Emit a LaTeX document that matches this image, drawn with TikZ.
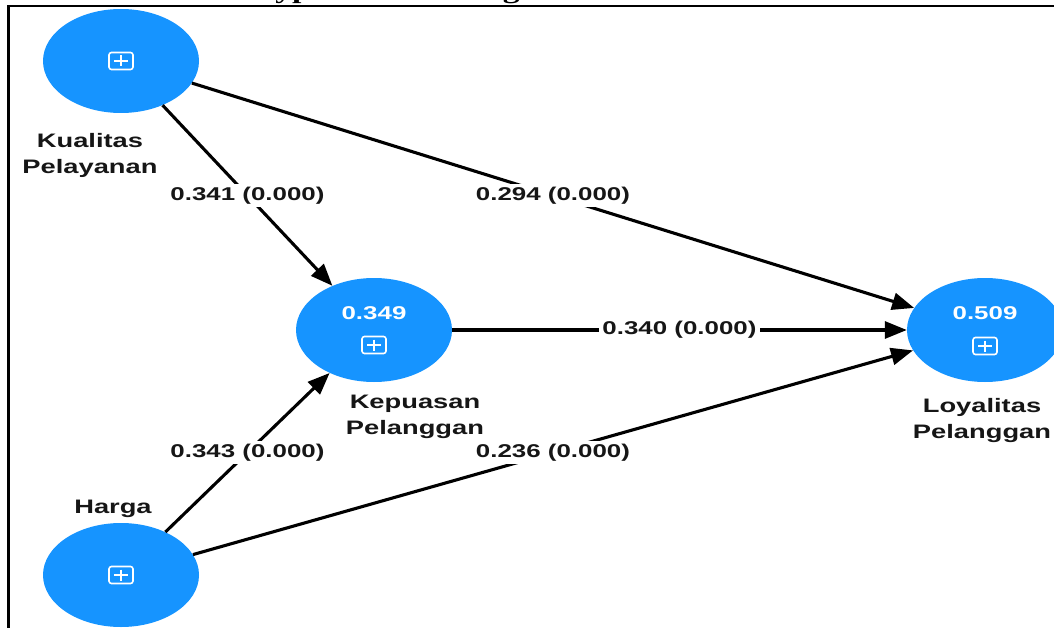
\documentclass[tikz,border=0pt]{standalone}
\usepackage{fontspec}
\usetikzlibrary{shapes.geometric,arrows.meta}
\newfontfamily\labfont{Liberation Sans}[FakeStretch=1.4]
\newfontfamily\titlefont{Liberation Serif}[FakeStretch=1.4]
\definecolor{nodeblue}{RGB}{22,148,255}
\definecolor{textdark}{RGB}{22,22,22}
\tikzset{
  construct/.style={ellipse, fill=nodeblue, draw=none, minimum width=156pt, minimum height=104pt, inner sep=0pt},
  namelab/.style={font=\labfont\bfseries\fontsize{19.5}{26}\selectfont, text=textdark, align=center, inner sep=0pt},
  vallab/.style={font=\labfont\bfseries\fontsize{18.5}{22}\selectfont, text=white, inner sep=0pt},
  elab/.style={font=\labfont\bfseries\fontsize{18.5}{22}\selectfont, text=textdark, fill=white, inner sep=3pt},
  edge/.style={line width=3.1pt, draw=black, -{Triangle[length=22pt,width=17pt]}},
  plusicon/.pic={
    \draw[white, line width=1.6pt, rounded corners=2.5pt] (-12,-8.5) rectangle (12,8.5);
    \draw[white, line width=1.6pt] (-7,0) -- (7,0) (0,-5.5) -- (0,5.5);
  }
}
\begin{document}
\begin{tikzpicture}[x=1pt,y=-1pt]
\useasboundingbox (0,0) rectangle (1054,628);
\clip (0,0) rectangle (1054,628);
\fill[white] (0,0) rectangle (1054,628);
% page frame and cut-off heading
\draw[line width=2.6pt] (8.5,640) -- (8.5,6) -- (1070,6);
\node[anchor=base west, font=\titlefont\bfseries\fontsize{24}{28}\selectfont, inner sep=0pt] (title) at (249,-1.5) {Hypothesis Testing};
% constructs
\node[construct] (kp) at (121,61) {};
\node[construct] (kep) at (374,330) {};
\node[construct] (loy) at (985,330) {};
\node[construct] (hg) at (121,575) {};
\pic at (121,61) {plusicon};
\pic at (374,345) {plusicon};
\pic at (985,346) {plusicon};
\pic at (121,575) {plusicon};
\node[vallab] (kepval) at (374,313) {0.349};
\node[vallab] (loyval) at (985,313) {0.509};
% paths
\draw[edge] (kp) -- node[elab] (e1) {0.341 (0.000)} (kep);
\draw[edge] (kp) -- node[elab] (e2) {0.294 (0.000)} (loy);
\draw[edge] (kep) -- node[elab] (e3) {0.340 (0.000)} (loy);
\draw[edge] (hg) -- node[elab] (e4) {0.343 (0.000)} (kep);
\draw[edge] (hg) -- node[elab] (e5) {0.236 (0.000)} (loy);
% construct names
\node[namelab, anchor=north] (kplab) at (90,133) {Kualitas\\Pelayanan};
\node[namelab, anchor=north] (keplab) at (415,395) {Kepuasan\\Pelanggan};
\node[namelab, anchor=north] (loylab) at (982,398) {Loyalitas\\Pelanggan};
\node[namelab, anchor=base] (hglab) at (113,513) {Harga};
\end{tikzpicture}
\end{document}
